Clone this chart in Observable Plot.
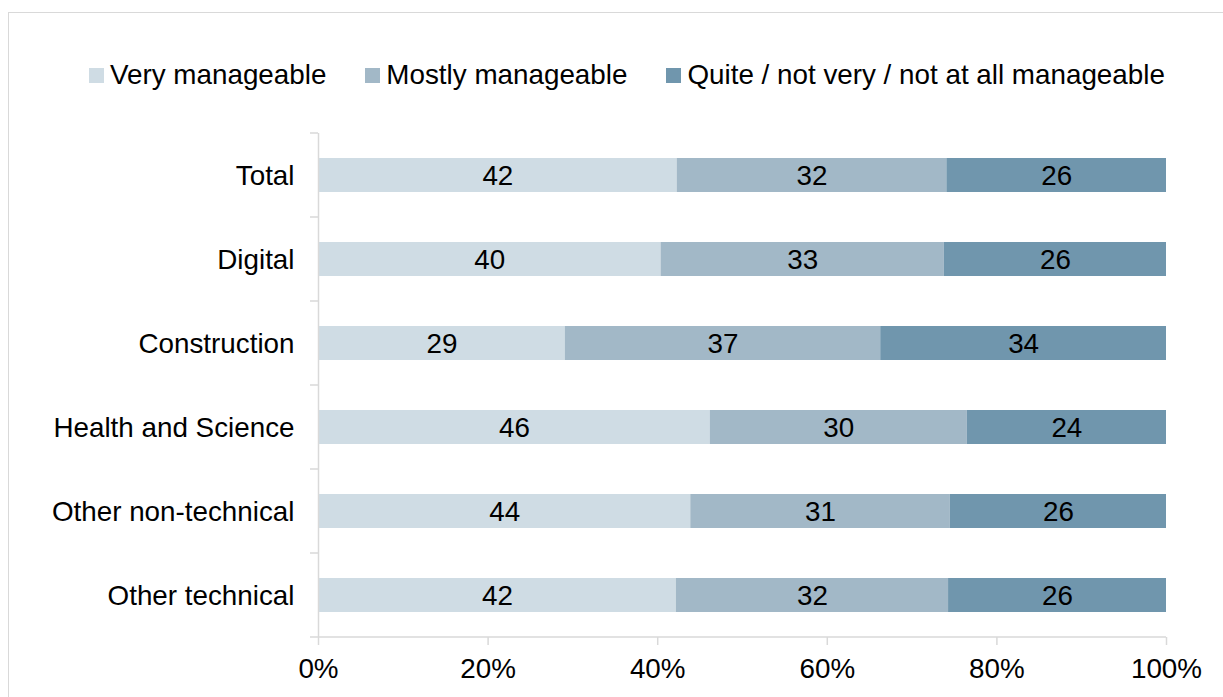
<!DOCTYPE html>
<html>
<head>
<meta charset="utf-8">
<script src="https://cdn.jsdelivr.net/npm/d3@7"></script>
<script src="https://cdn.jsdelivr.net/npm/@observablehq/plot@0.6"></script>
<style>
  html, body { margin: 0; padding: 0; background: #fff; overflow: hidden; width: 1223px; height: 697px; }
  body { font-family: "Liberation Sans", Arial, sans-serif; position: relative; }
  #frame { position: absolute; left: 8px; top: 12px; width: 1230px; height: 700px; border: 1.5px solid #d9d9d9; box-sizing: border-box; }
  #legend { position: absolute; left: 89px; top: 59px; display: flex; align-items: center; font-size: 27.8px; color: #000; white-space: nowrap; }
  .item { display: flex; align-items: center; margin-right: 39px; }
  .sw { width: 15px; height: 15px; margin-right: 6px; }
  #chart { position: absolute; left: 0; top: 100px; }
</style>
</head>
<body>
<div id="frame"></div>
<div id="legend"></div>
<div id="chart"></div>
<script>
const categories = ["Total", "Digital", "Construction", "Health and Science", "Other non-technical", "Other technical"];
const series = ["Very manageable", "Mostly manageable", "Quite / not very / not at all manageable"];
const colors = ["#cfdce4", "#a2b8c7", "#7096ad"];
// percentage values per category (in series order)
const veryManageable   = [42.3, 40.4, 29.1, 46.2, 43.9, 42.2];
const mostlyManageable = [31.8, 33.4, 37.2, 30.3, 30.6, 32.1];
const notManageable    = [25.9, 26.2, 33.7, 23.5, 25.5, 25.7];
const xTicks = [0, 20, 40, 60, 80, 100];

const seriesValues = [veryManageable, mostlyManageable, notManageable];
const data = [];
categories.forEach((c, i) => {
  series.forEach((s, j) => data.push({category: c, series: s, value: seriesValues[j][i]}));
});

// legend
const legend = document.getElementById("legend");
series.forEach((s, j) => {
  const it = document.createElement("div");
  it.className = "item";
  const sw = document.createElement("div");
  sw.className = "sw";
  sw.style.background = colors[j];
  const t = document.createElement("span");
  t.textContent = s;
  it.appendChild(sw); it.appendChild(t);
  legend.appendChild(it);
});

const W = 1223, H = 597;
const FS = 27.8;
const plot = Plot.plot({
  width: W,
  height: H,
  marginLeft: 318,
  marginRight: 57,
  marginTop: 33,
  marginBottom: 60,
  style: {fontFamily: "'Liberation Sans', Arial, sans-serif", fontSize: FS + "px", color: "#000", background: "transparent"},
  x: {domain: [0, 100]},
  y: {domain: categories, paddingInner: 50 / 84, paddingOuter: 25 / 84},
  color: {domain: series, range: colors},
  marks: [
    Plot.barX(data, Plot.stackX({x: "value", y: "category", fill: "series"})),
    Plot.text(data, Plot.stackX({x: "value", y: "category", text: d => d3.format(".0f")(d.value), fill: "#000", fontSize: FS, dy: 1})),
    Plot.ruleX([0], {stroke: "#d9d9d9", strokeWidth: 1.5}),
    Plot.axisY({tickSize: 0, tickPadding: 24, label: null, fontSize: FS, dy: 1}),
    Plot.axisX({ticks: xTicks, tickSize: 8, tickPadding: 13, tickFormat: d => d + "%", label: null, stroke: "#d9d9d9", fill: "#000", strokeWidth: 1.5, fontSize: FS})
  ]
});
document.getElementById("chart").appendChild(plot);

// category boundary ticks and x baseline, placed via the plot's own scales
const ys = plot.scale("y");
const xs = plot.scale("x");
const half = ys.step / 2;
const bounds = categories.map(c => ys.apply(c) + ys.bandwidth / 2 - half);
bounds.push(ys.apply(categories[categories.length - 1]) + ys.bandwidth / 2 + half);
const svg = d3.select(plot);
const g = svg.append("g").attr("stroke", "#d9d9d9").attr("stroke-width", 1.5);
const x0 = xs.apply(0);
bounds.forEach(b => {
  g.append("line").attr("x1", x0 - 8).attr("x2", x0).attr("y1", b).attr("y2", b);
});
const yb = bounds[bounds.length - 1];
g.append("line").attr("x1", x0).attr("x2", xs.apply(100)).attr("y1", yb).attr("y2", yb);
</script>
</body>
</html>
